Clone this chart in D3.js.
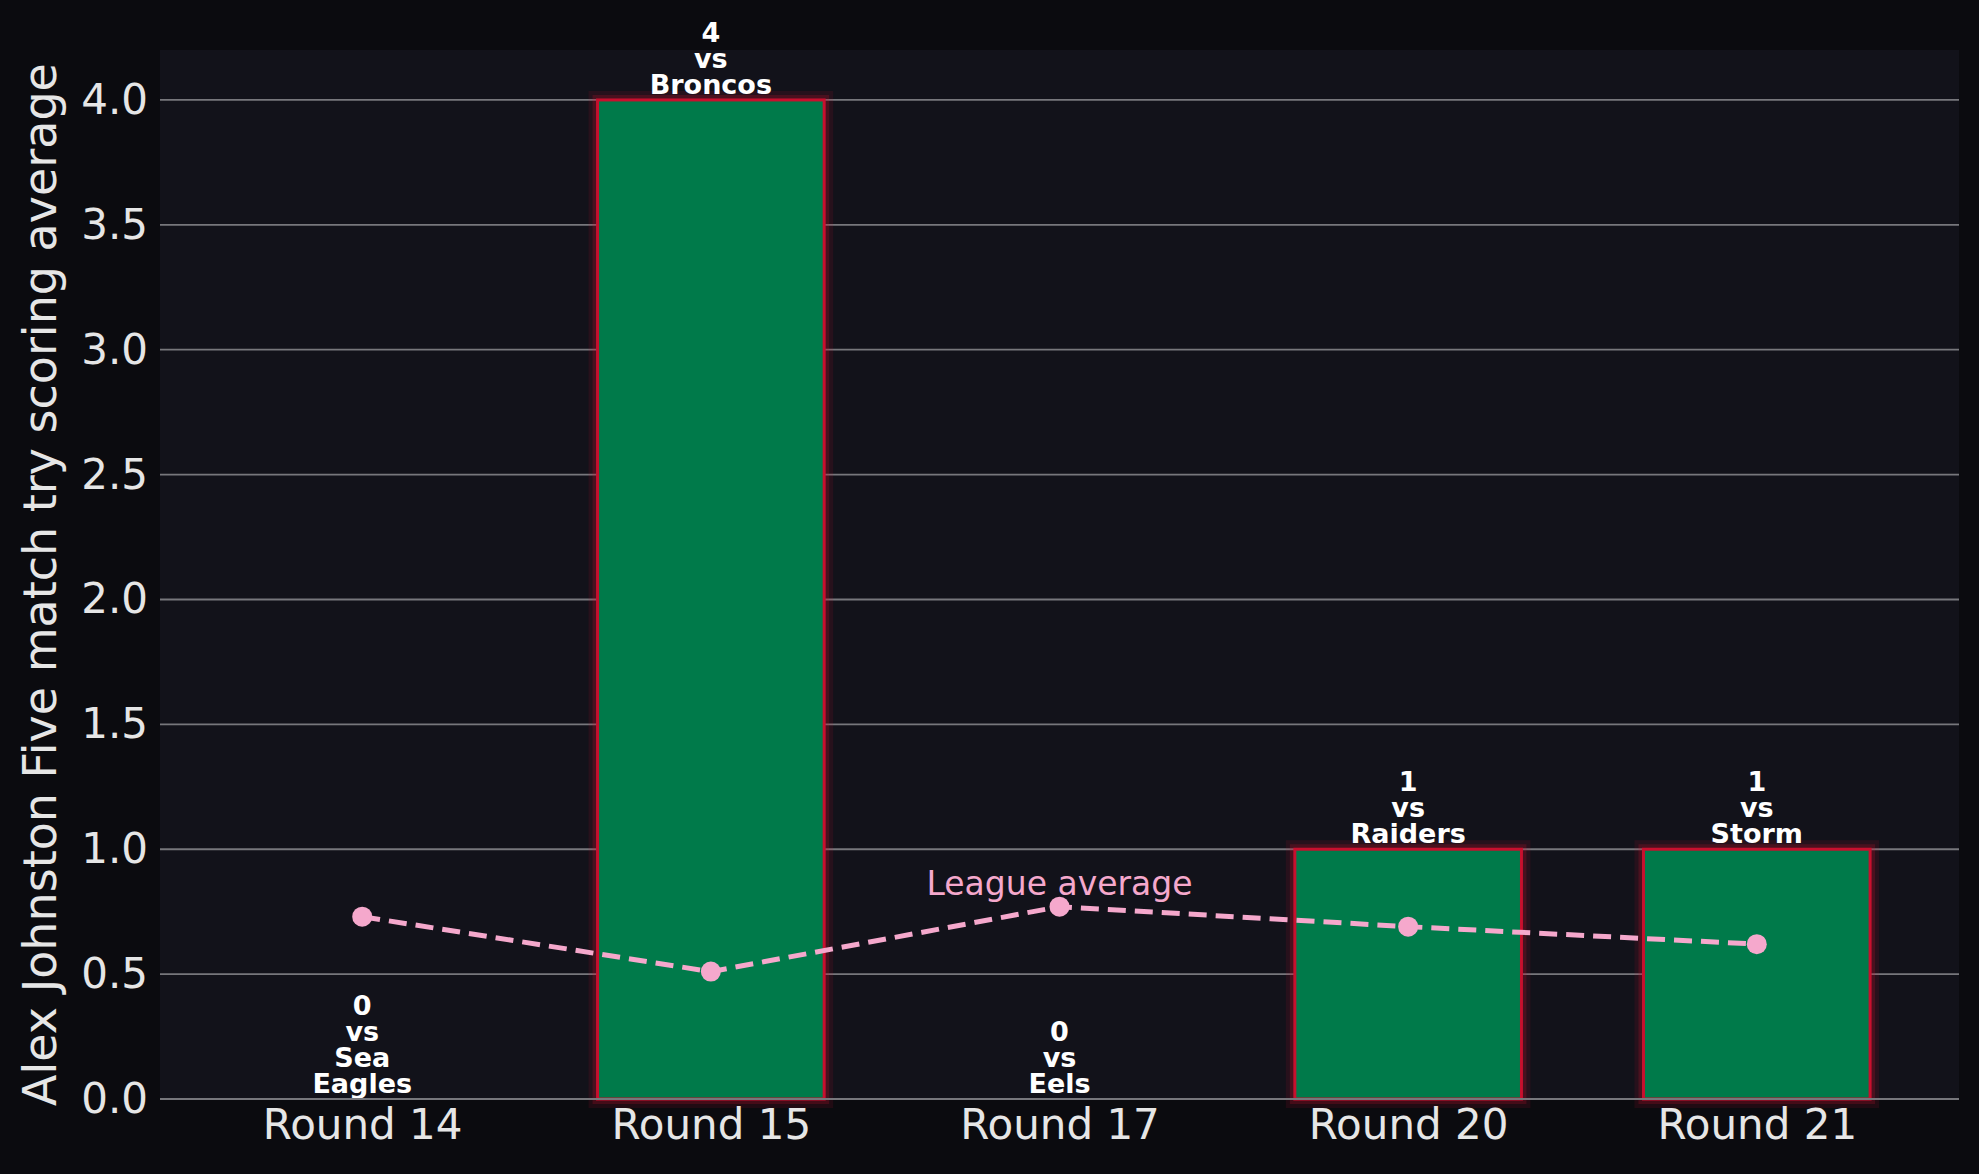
<!DOCTYPE html>
<html><head><meta charset="utf-8">
<script src="https://cdn.jsdelivr.net/npm/d3@7"></script>
<style>body{margin:0;background:#0b0b0f;}text{font-family:"DejaVu Sans",sans-serif;}</style>
</head><body>
<svg id="chart" width="1979" height="1174"></svg>
<script>
const rounds = ["Round 14", "Round 15", "Round 17", "Round 20", "Round 21"];
const tries = [0, 4, 0, 1, 1];
const opponents = ["Sea\nEagles", "Broncos", "Eels", "Raiders", "Storm"];
const leagueAvg = [0.73, 0.51, 0.77, 0.69, 0.62];
const yTicks = [0, 0.5, 1, 1.5, 2, 2.5, 3, 3.5, 4];

const svg = d3.select("#chart");
const m = {left: 160, right: 20, top: 50, bottom: 75};
const W = 1979, H = 1174;
svg.append("rect").attr("width", W).attr("height", H).attr("fill", "#0b0b0f");
svg.append("rect").attr("x", m.left).attr("y", m.top)
  .attr("width", W - m.left - m.right).attr("height", H - m.top - m.bottom).attr("fill", "#12121a");

const x = d3.scaleLinear().domain([-0.58, 4.58]).range([m.left, W - m.right]);
const y = d3.scaleLinear().domain([0, 4.2]).range([H - m.bottom, m.top]);
const bw = x(0.65) - x(0);

// grid
svg.append("g").selectAll("line").data(yTicks).join("line")
  .attr("x1", m.left).attr("x2", W - m.right)
  .attr("y1", d => y(d)).attr("y2", d => y(d))
  .attr("stroke", "#77777c").attr("stroke-width", 1.8);

// bars with glow
const bars = svg.append("g");
rounds.forEach((r, i) => {
  if (tries[i] <= 0) return;
  const x0 = x(i) - bw / 2, y0 = y(tries[i]), h = y(0) - y(tries[i]);
  [18, 10].forEach((w, k) => bars.append("rect").attr("x", x0).attr("y", y0).attr("width", bw).attr("height", h)
    .attr("fill", "none").attr("stroke", "#c8102e").attr("stroke-opacity", k ? 0.22 : 0.12).attr("stroke-width", w));
  bars.append("rect").attr("x", x0).attr("y", y0).attr("width", bw).attr("height", h)
    .attr("fill", "#007a4a").attr("stroke", "#c8102e").attr("stroke-width", 3);
});

// bar annotations
rounds.forEach((r, i) => {
  const lines = [String(tries[i]), "vs", ...opponents[i].split("\n")];
  const t = svg.append("text").attr("text-anchor", "middle").attr("fill", "#fff")
    .attr("font-weight", "bold").attr("font-size", 27);
  const base = y(tries[i]) - 6;
  lines.forEach((l, k) => t.append("tspan").attr("x", x(i))
    .attr("y", base - (lines.length - 1 - k) * 26).text(l));
});

// league average line
svg.append("path").datum(leagueAvg)
  .attr("d", d3.line().x((d, i) => x(i)).y(d => y(d)))
  .attr("fill", "none").attr("stroke", "#f5a8cc").attr("stroke-width", 5).attr("stroke-dasharray", "18,9");
svg.append("g").selectAll("circle").data(leagueAvg).join("circle")
  .attr("cx", (d, i) => x(i)).attr("cy", d => y(d)).attr("r", 10).attr("fill", "#f5a8cc");
svg.append("text").attr("x", x(2)).attr("y", y(leagueAvg[2]) - 12).attr("text-anchor", "middle")
  .attr("fill", "#f5a8cc").attr("font-size", 33).text("League average");

// axes
const ya = svg.append("g").attr("transform", `translate(${m.left},0)`)
  .call(d3.axisLeft(y).tickValues(yTicks).tickFormat(d3.format(".1f")).tickSize(0).tickPadding(12));
const xa = svg.append("g").attr("transform", `translate(0,${H - m.bottom})`)
  .call(d3.axisBottom(x).tickValues(d3.range(rounds.length)).tickFormat(i => rounds[i]).tickSize(0).tickPadding(10));
[ya, xa].forEach(a => {
  a.select(".domain").remove();
  a.selectAll("text").attr("fill", "#e6e6e6").attr("font-size", 42).attr("font-family", "DejaVu Sans");
});
svg.append("line").attr("x1", m.left).attr("x2", W - m.right).attr("y1", y(0)).attr("y2", y(0))
  .attr("stroke", "#77777c").attr("stroke-width", 1.8);

svg.append("text").attr("transform", `translate(56,${(m.top + H - m.bottom) / 2 + 10}) rotate(-90)`)
  .attr("text-anchor", "middle").attr("fill", "#e6e6e6").attr("font-size", 46)
  .text("Alex Johnston Five match try scoring average");
</script>
</body></html>
